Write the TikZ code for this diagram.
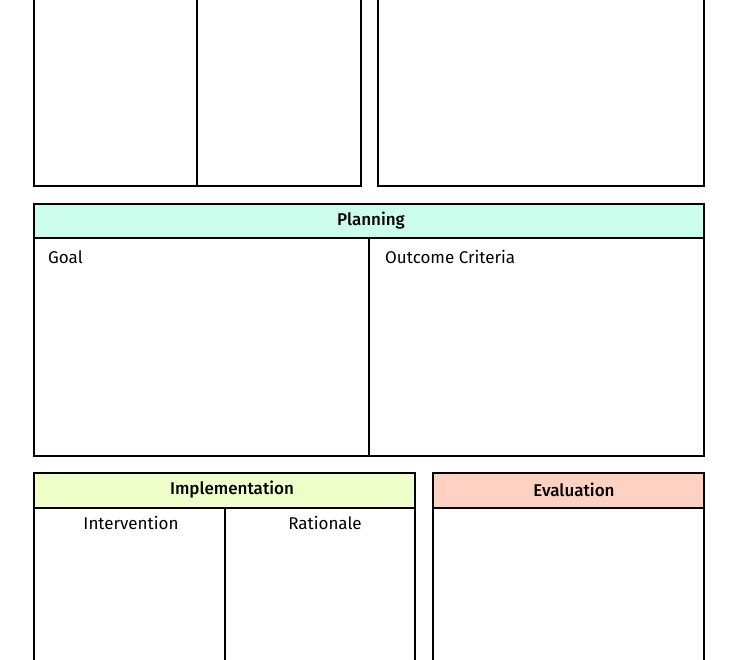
\documentclass[tikz,border=0pt]{standalone}
\usepackage{fontspec}
\setmainfont{Fira Sans}[BoldFont={Fira Sans Medium}]
\usetikzlibrary{positioning}
\definecolor{planColor}{HTML}{CCFCEB}
\definecolor{implColor}{HTML}{EFFFC9}
\definecolor{evalColor}{HTML}{FFD1C2}

\begin{document}
\begin{tikzpicture}[x=1pt,y=-1pt]
		\useasboundingbox (0,0) rectangle (736,660);
		\clip (0,0) rectangle (736,660);
		\begin{scope}
			[
				styleBox/.style={draw, line width=1.4pt},
				styleHead/.style={draw, line width=1.4pt, fill=#1},
				styleRule/.style={line width=2.6pt},
				styleTitle/.style={font=\fontsize{17}{20}\selectfont\bfseries, inner sep=0pt},
				styleLabel/.style={font=\fontsize{17}{20}\selectfont, inner sep=0pt},
			]
			% top boxes
			\draw[styleBox] (34,-10) rectangle (361,186);
			\draw[styleBox] (197,-10) -- (197,186);
			\draw[styleBox] (378,-10) rectangle (704,186);

			% planning
			\draw[styleHead=planColor] (34,204) rectangle (704,238);
			\draw[styleBox] (34,238) rectangle (704,456);
			\draw[styleRule] (34,238) -- (704,238);
			\draw[styleBox] (369,238) -- (369,456);
			\node(plan)[styleTitle] at (371,221) {Planning};
			\node(goal)[styleLabel, anchor=west] at (48,257) {Goal};
			\node(crit)[styleLabel, anchor=west] at (385,257) {Outcome Criteria};

			% implementation
			\draw[styleHead=implColor] (34,473) rectangle (415,508);
			\draw[styleBox] (34,508) rectangle (415,680);
			\draw[styleRule] (34,508) -- (415,508);
			\draw[styleBox] (225,508) -- (225,680);
			\node(impl)[styleTitle] at (232,490) {Implementation};
			\node(inter)[styleLabel] at (131,523) {Intervention};
			\node(rat)[styleLabel] at (325,523) {Rationale};

			% evaluation
			\draw[styleHead=evalColor] (433,473) rectangle (704,508);
			\draw[styleBox] (433,508) rectangle (704,680);
			\draw[styleRule] (433,508) -- (704,508);
			\node(eval)[styleTitle] at (574,490) {Evaluation};
		\end{scope}
	\end{tikzpicture}
\end{document}
